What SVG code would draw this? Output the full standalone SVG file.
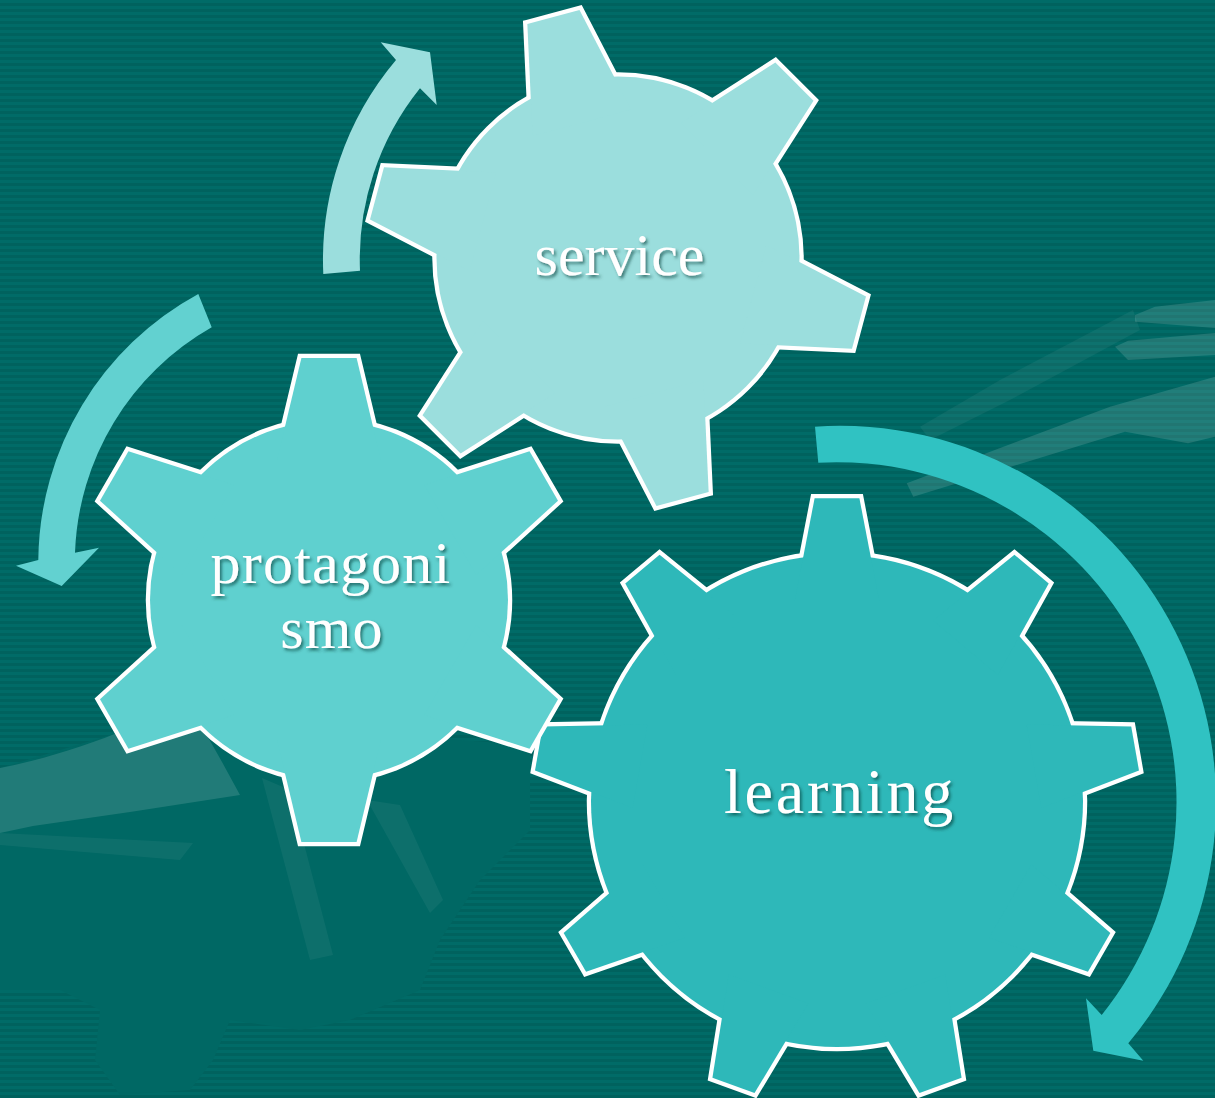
<svg xmlns="http://www.w3.org/2000/svg" xmlns:xlink="http://www.w3.org/1999/xlink" width="1215" height="1098" viewBox="0 0 1215 1098">
<style>
.light{fill:#ffffff;opacity:.13}
.faint{fill:#ffffff;opacity:.05}
.solid{fill:#006864}
.outline{fill:#ffffff;stroke:#ffffff;stroke-width:8.5;stroke-linejoin:miter}
.label{font-family:"Liberation Serif","Times New Roman",serif;fill:#ffffff;text-anchor:middle;filter:url(#shadow)}
</style>
<defs>
<pattern id="stripes" width="10" height="6" patternUnits="userSpaceOnUse">
<rect width="10" height="6" fill="#006b67"/>
<rect y="3" width="10" height="3" fill="#00625e"/>
</pattern>
<filter id="shadow" x="-10%" y="-30%" width="130%" height="170%">
<feDropShadow dx="2" dy="2.5" stdDeviation="1.5" flood-color="#003836" flood-opacity="0.6"/>
</filter>
<g id="shape-service">
<circle r="181.5"/>
<polygon points="-27,-249.5 27,-249.5 51,-140 -51,-140" transform="rotate(-15)"/>
<polygon points="-27,-249.5 27,-249.5 51,-140 -51,-140" transform="rotate(45)"/>
<polygon points="-27,-249.5 27,-249.5 51,-140 -51,-140" transform="rotate(105)"/>
<polygon points="-27,-249.5 27,-249.5 51,-140 -51,-140" transform="rotate(165)"/>
<polygon points="-27,-249.5 27,-249.5 51,-140 -51,-140" transform="rotate(225)"/>
<polygon points="-27,-249.5 27,-249.5 51,-140 -51,-140" transform="rotate(285)"/>
</g>
<g id="shape-protagonismo">
<circle r="179"/>
<polygon points="-27.6,-242 27.6,-242 52,-140 -52,-140"/>
<polygon points="-28.5,-248 28.5,-248 52,-140 -52,-140" transform="rotate(60)"/>
<polygon points="-28.5,-248 28.5,-248 52,-140 -52,-140" transform="rotate(120)"/>
<polygon points="-27.6,-242 27.6,-242 52,-140 -52,-140" transform="rotate(180)"/>
<polygon points="-28.5,-248 28.5,-248 52,-140 -52,-140" transform="rotate(240)"/>
<polygon points="-28.5,-248 28.5,-248 52,-140 -52,-140" transform="rotate(300)"/>
</g>
<g id="shape-learning">
<circle r="246"/>
<polygon points="-22.4,-302.7 22.4,-302.7 42.3,-200 -42.3,-200"/>
<polygon points="-22.4,-302.7 22.4,-302.7 42.3,-200 -42.3,-200" transform="rotate(40)"/>
<polygon points="-22.4,-302.7 22.4,-302.7 42.3,-200 -42.3,-200" transform="rotate(80)"/>
<polygon points="-22.4,-302.7 22.4,-302.7 42.3,-200 -42.3,-200" transform="rotate(120)"/>
<polygon points="-22.4,-302.7 22.4,-302.7 42.3,-200 -42.3,-200" transform="rotate(160)"/>
<polygon points="-22.4,-302.7 22.4,-302.7 42.3,-200 -42.3,-200" transform="rotate(200)"/>
<polygon points="-22.4,-302.7 22.4,-302.7 42.3,-200 -42.3,-200" transform="rotate(240)"/>
<polygon points="-22.4,-302.7 22.4,-302.7 42.3,-200 -42.3,-200" transform="rotate(280)"/>
<polygon points="-22.4,-302.7 22.4,-302.7 42.3,-200 -42.3,-200" transform="rotate(320)"/>
</g>
</defs>

<g id="background">
<rect width="1215" height="1098" fill="url(#stripes)"/>
<path class="solid" d="M0,768 L117,733 L240,725 L530,745 L530,830 L480,880 L440,940 L420,990 L350,1020 L300,1030 L230,1020 L213,1060 L190,1090 L120,1095 L95,1060 L100,1010 L60,990 L0,990 Z"/>
<path class="light" d="M0,768 C40,760 80,748 117,733 L200,723 L222,762 L240,795 L130,812 L33,826 L0,833 Z"/>
<path class="faint" d="M0,833 L193,843 L180,860 L0,845 Z"/>
<path class="faint" d="M262,778 L290,790 L333,955 L310,960 Z"/>
<path class="faint" d="M367,800 L400,805 L443,900 L430,913 Z"/>
<path class="light" d="M1135,315 L1155,306.7 L1215,300 L1215,328 L1135,321.7 Z"/>
<path class="light" d="M1115,346.7 L1128,340.7 L1215,333 L1215,355 L1128,360 Z"/>
<path class="light" d="M906.7,483.3 L1110,406.7 L1215,376.7 L1215,436.7 L1188,443.3 L1125,431.7 L913.3,496.7 Z"/>
<path class="faint" d="M920,426.7 L1000,380 L1133,310 L1140,330 L1010,400 L930,440 Z"/>
</g>

<g id="connectors">
<path id="arrow-service" fill="#9bdedd" d="M323.3,274 A310,310 0 0 1 396,60 L380.7,42.3 L430,52.3 L436.7,105 L420,88.3 A273,273 0 0 0 360,270.7 Z"/>
<path id="arrow-protagonismo" fill="#62d1d0" d="M198.3,294 A306,306 0 0 0 38.3,560 L16,565.7 L61.7,586 L99,547.7 L75,552.7 A270,270 0 0 1 211.7,327.3 Z"/>
<path id="arrow-learning" fill="#30c2c2" d="M815,426.7 A376,376 0 0 1 1128.3,1043.3 L1143.3,1060.7 L1093.3,1050.7 L1086,998.3 L1101.7,1015 A340,340 0 0 0 818.3,462.7 Z"/>
</g>

<g id="gear-learning">
<g transform="translate(837,801)">
<use href="#shape-learning" class="outline"/>
<use href="#shape-learning" fill="#2eb8b9"/>
</g>
<text class="label" x="840" y="813" font-size="64" letter-spacing="2.8">learning</text>
</g>

<g id="gear-protagonismo">
<g transform="translate(329,600)">
<use href="#shape-protagonismo" class="outline"/>
<use href="#shape-protagonismo" fill="#5fd0cf"/>
</g>
<text class="label" font-size="60" letter-spacing="1.2"><tspan x="331" y="583">protagoni</tspan><tspan x="332" y="648">smo</tspan></text>
</g>

<g id="gear-service">
<g transform="translate(618,258)">
<use href="#shape-service" class="outline"/>
<use href="#shape-service" fill="#9bdedd"/>
</g>
<text class="label" x="619.5" y="275" font-size="60">service</text>
</g>
</svg>
